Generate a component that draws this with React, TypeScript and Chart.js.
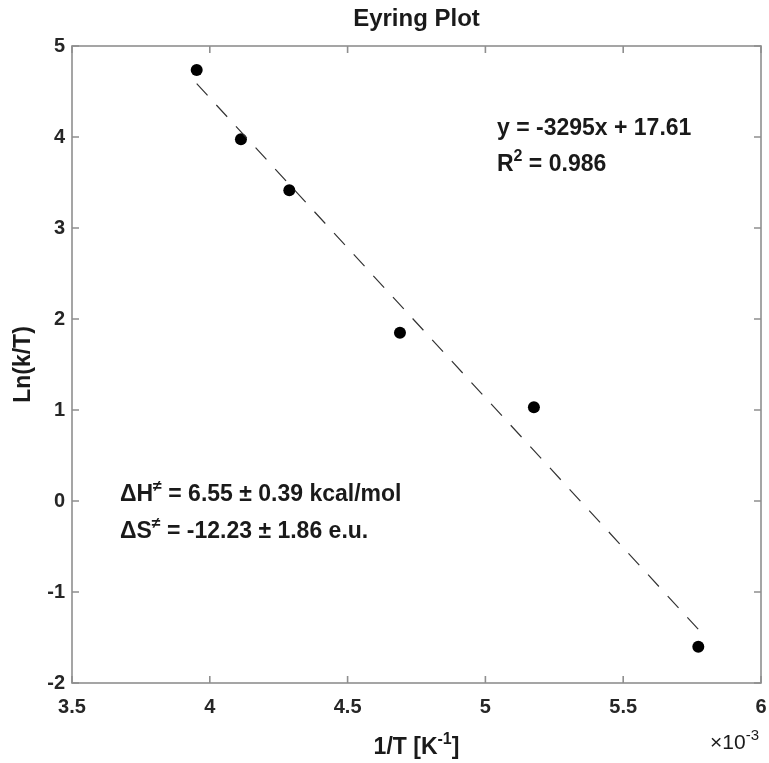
import React, { useEffect, useRef } from "react";
import { Chart, registerables } from "chart.js";

Chart.register(...registerables);

// Measured points: 1/T in units of 10^-3 K^-1, and ln(k/T)
const invT = [3.9525, 4.113, 4.2885, 4.69, 5.176, 5.7725];
const lnKT = [4.736, 3.975, 3.414, 1.849, 1.03, -1.601];

// Linear fit (x in K^-1)
const fitSlope = -3295;
const fitIntercept = 17.61;
const rSquared = "0.986";

// Activation parameters
const dH = "6.55";
const dHErr = "0.39";
const dS = "-12.23";
const dSErr = "1.86";

const xTicks = [3.5, 4, 4.5, 5, 5.5, 6];
const xTickLabels = ["3.5", "4", "4.5", "5", "5.5", "6"];
const yTicks = [-2, -1, 0, 1, 2, 3, 4, 5];
const yTickLabels = ["-2", "-1", "0", "1", "2", "3", "4", "5"];

const FONT = "'Liberation Sans', Arial, Helvetica, sans-serif";
const TEXT = "#1a1a1a";
const AXIS = "#8f8f8f";

type Part = { t: string; sup?: boolean };

function drawRich(
  ctx: CanvasRenderingContext2D,
  parts: Part[],
  x: number,
  y: number,
  size: number,
  weight: string,
  align: "left" | "center" | "right"
) {
  const supSize = Math.round(size * 0.7);
  const fontFor = (p: Part) => `${weight} ${p.sup ? supSize : size}px ${FONT}`;
  let total = 0;
  const widths = parts.map((p) => {
    ctx.font = fontFor(p);
    const w = ctx.measureText(p.t).width;
    total += w;
    return w;
  });
  let cx = align === "left" ? x : align === "center" ? x - total / 2 : x - total;
  ctx.textAlign = "left";
  ctx.textBaseline = "alphabetic";
  parts.forEach((p, i) => {
    ctx.font = fontFor(p);
    const by = p.sup ? y - size * 0.42 : y;
    ctx.fillText(p.t, cx, by);
    cx += widths[i];
  });
}

const framePlugin = {
  id: "frame",
  afterDraw(chart: any) {
    const { ctx, chartArea: a, scales } = chart;
    const xs = scales.x;
    const ys = scales.y;
    ctx.save();

    // axes box with inward ticks on all four sides
    ctx.strokeStyle = AXIS;
    ctx.lineWidth = 1.6;
    ctx.strokeRect(a.left, a.top, a.right - a.left, a.bottom - a.top);
    const tl = 7;
    ctx.beginPath();
    xTicks.forEach((v) => {
      const px = xs.getPixelForValue(v);
      ctx.moveTo(px, a.bottom);
      ctx.lineTo(px, a.bottom - tl);
      ctx.moveTo(px, a.top);
      ctx.lineTo(px, a.top + tl);
    });
    yTicks.forEach((v) => {
      const py = ys.getPixelForValue(v);
      ctx.moveTo(a.left, py);
      ctx.lineTo(a.left + tl, py);
      ctx.moveTo(a.right, py);
      ctx.lineTo(a.right - tl, py);
    });
    ctx.stroke();

    ctx.fillStyle = TEXT;
    const cx = (a.left + a.right) / 2;
    const cy = (a.top + a.bottom) / 2;

    // title
    drawRich(ctx, [{ t: "Eyring Plot" }], cx, 26, 24, "bold", "center");

    // x-axis label
    drawRich(
      ctx,
      [{ t: "1/T [K" }, { t: "-1", sup: true }, { t: "]" }],
      cx,
      754,
      23,
      "bold",
      "center"
    );

    // exponent marker
    drawRich(
      ctx,
      [{ t: "\u00d710" }, { t: "-3", sup: true }],
      a.right - 2,
      749,
      21,
      "normal",
      "right"
    );

    // y-axis label
    ctx.save();
    ctx.translate(30, cy);
    ctx.rotate(-Math.PI / 2);
    drawRich(ctx, [{ t: "Ln(k/T)" }], 0, 0, 23, "bold", "center");
    ctx.restore();

    // fit equation
    const ex = xs.getPixelForValue(5.042);
    drawRich(
      ctx,
      [{ t: `y = ${fitSlope}x + ${fitIntercept}` }],
      ex,
      ys.getPixelForValue(4.11) + 8,
      23,
      "bold",
      "left"
    );
    drawRich(
      ctx,
      [{ t: "R" }, { t: "2", sup: true }, { t: ` = ${rSquared}` }],
      ex,
      ys.getPixelForValue(3.714) + 8,
      23,
      "bold",
      "left"
    );

    // activation parameters
    const hx = xs.getPixelForValue(3.674);
    drawRich(
      ctx,
      [
        { t: "\u0394H" },
        { t: "\u2260", sup: true },
        { t: ` = ${dH} \u00b1 ${dHErr} kcal/mol` },
      ],
      hx,
      ys.getPixelForValue(0.088) + 8,
      23,
      "bold",
      "left"
    );
    drawRich(
      ctx,
      [
        { t: "\u0394S" },
        { t: "\u2260", sup: true },
        { t: ` = ${dS} \u00b1 ${dSErr} e.u.` },
      ],
      hx,
      ys.getPixelForValue(-0.319) + 8,
      23,
      "bold",
      "left"
    );

    ctx.restore();
  },
};

export default function App() {
  const canvasRef = useRef<HTMLCanvasElement | null>(null);

  useEffect(() => {
    document.body.style.margin = "0";
    const canvas = canvasRef.current;
    if (!canvas) return;

    const xMin = Math.min(...invT);
    const xMax = Math.max(...invT);
    const fitLine = [xMin, xMax].map((x) => ({
      x,
      y: (fitSlope * x) / 1000 + fitIntercept,
    }));

    const chart = new Chart(canvas, {
      type: "scatter",
      data: {
        datasets: [
          {
            label: "fit",
            data: fitLine,
            showLine: true,
            borderColor: "#333333",
            borderWidth: 1.2,
            borderDash: [16, 13],
            pointRadius: 0,
            fill: false,
          },
          {
            label: "data",
            data: invT.map((x, i) => ({ x, y: lnKT[i] })),
            backgroundColor: "#000000",
            borderColor: "#000000",
            borderWidth: 0,
            pointRadius: 6,
            pointHoverRadius: 6,
          },
        ],
      },
      options: {
        responsive: false,
        maintainAspectRatio: false,
        animation: false,
        devicePixelRatio: 1,
        layout: { padding: { top: 46, right: 8, left: 0, bottom: 0 } },
        plugins: {
          legend: { display: false },
          title: { display: false },
          tooltip: { enabled: false },
        },
        events: [],
        scales: {
          x: {
            type: "linear",
            position: "bottom",
            min: 3.5,
            max: 6,
            afterBuildTicks: (s: any) => {
              s.ticks = xTicks.map((v) => ({ value: v }));
            },
            afterFit: (s: any) => {
              s.height = 80;
              s.paddingLeft = 0;
              s.paddingRight = 0;
            },
            grid: { display: false, drawTicks: false },
            border: { display: false },
            ticks: {
              autoSkip: false,
              maxRotation: 0,
              padding: 12,
              color: "#262626",
              font: { family: FONT, size: 20, weight: "bold" },
              callback: (v: any) => xTickLabels[xTicks.indexOf(Number(v))] ?? "",
            },
          },
          y: {
            type: "linear",
            position: "left",
            min: -2,
            max: 5,
            afterBuildTicks: (s: any) => {
              s.ticks = yTicks.map((v) => ({ value: v }));
            },
            afterFit: (s: any) => {
              s.width = 72;
              s.paddingTop = 0;
              s.paddingBottom = 0;
            },
            grid: { display: false, drawTicks: false },
            border: { display: false },
            ticks: {
              autoSkip: false,
              padding: 7,
              color: "#262626",
              font: { family: FONT, size: 20, weight: "bold" },
              callback: (v: any) => yTickLabels[yTicks.indexOf(Number(v))] ?? "",
            },
          },
        },
      },
      plugins: [framePlugin],
    });

    return () => chart.destroy();
  }, []);

  return (
    <div style={{ position: "absolute", left: 0, top: 0, width: 769, height: 763, background: "#ffffff" }}>
      <canvas ref={canvasRef} width={769} height={763} />
    </div>
  );
}
